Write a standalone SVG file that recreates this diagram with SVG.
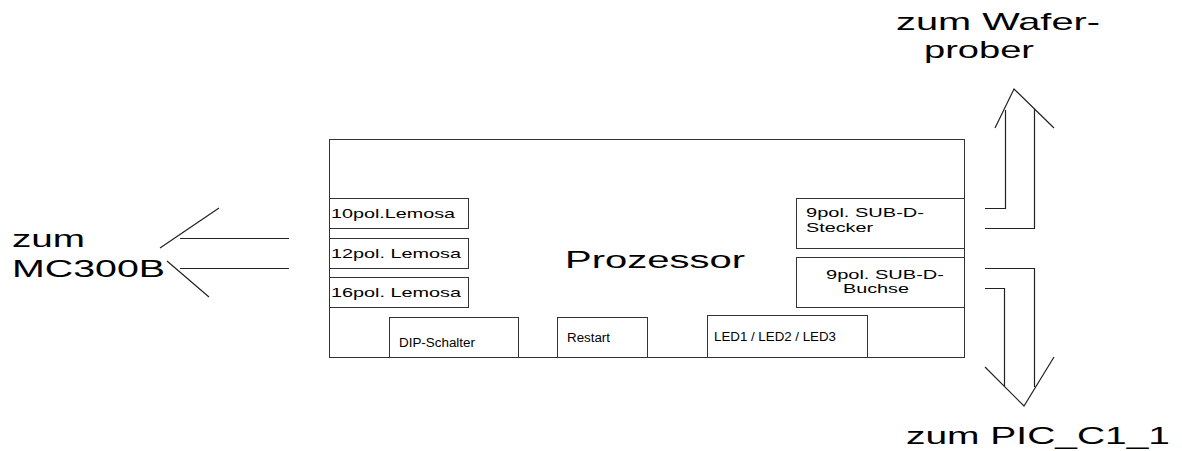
<svg xmlns="http://www.w3.org/2000/svg" width="1182" height="451" viewBox="0 0 1182 451">
<style>
.box{fill:#fff;stroke:#333;stroke-width:1}
.ln{fill:none;stroke:#222;stroke-width:1.2}
text{font-family:"Liberation Sans",Arial,sans-serif;fill:#000}
.s{font-size:13px}
.m{font-size:12px}
.b{font-size:24px}
</style>
<rect width="1182" height="451" fill="#fff"/>
<g id="prozessor">
<rect class="box" x="329.5" y="139.5" width="635" height="218"/>
<text class="b" x="565" y="268" textLength="180" lengthAdjust="spacingAndGlyphs">Prozessor</text>
</g>
<g id="lemosa10">
<rect class="box" x="329.5" y="198.5" width="139" height="30"/>
<text class="s" x="331" y="218" textLength="124" lengthAdjust="spacingAndGlyphs">10pol.Lemosa</text>
</g>
<g id="lemosa12">
<rect class="box" x="329.5" y="238.5" width="139" height="30"/>
<text class="s" x="331" y="258" textLength="130" lengthAdjust="spacingAndGlyphs">12pol. Lemosa</text>
</g>
<g id="lemosa16">
<rect class="box" x="329.5" y="277.5" width="139" height="30"/>
<text class="s" x="331" y="297" textLength="130" lengthAdjust="spacingAndGlyphs">16pol. Lemosa</text>
</g>
<g id="dip">
<rect class="box" x="389.5" y="317.5" width="129" height="40"/>
<text class="m" x="399" y="347" textLength="76" lengthAdjust="spacingAndGlyphs">DIP-Schalter</text>
</g>
<g id="restart">
<rect class="box" x="557.5" y="317.5" width="90" height="40"/>
<text class="m" x="567" y="342" textLength="43" lengthAdjust="spacingAndGlyphs">Restart</text>
</g>
<g id="led">
<rect class="box" x="707.5" y="315.5" width="160" height="42"/>
<text class="m" x="714" y="341" textLength="122" lengthAdjust="spacingAndGlyphs">LED1 / LED2 / LED3</text>
</g>
<g id="stecker">
<rect class="box" x="796.5" y="198.5" width="168" height="50"/>
<text class="s" x="806" y="217" textLength="118" lengthAdjust="spacingAndGlyphs">9pol. SUB-D-</text>
<text class="s" x="806" y="232" textLength="67" lengthAdjust="spacingAndGlyphs">Stecker</text>
</g>
<g id="buchse">
<rect class="box" x="796.5" y="257.5" width="168" height="50"/>
<text class="s" x="826" y="279" textLength="118" lengthAdjust="spacingAndGlyphs">9pol. SUB-D-</text>
<text class="s" x="843" y="293" textLength="66" lengthAdjust="spacingAndGlyphs">Buchse</text>
</g>
<g id="mc300b">
<text class="b" x="12" y="247" textLength="73" lengthAdjust="spacingAndGlyphs">zum</text>
<text class="b" x="12" y="277" textLength="153" lengthAdjust="spacingAndGlyphs">MC300B</text>
</g>
<g id="waferprober">
<text class="b" x="896" y="30" textLength="204" lengthAdjust="spacingAndGlyphs">zum Wafer-</text>
<text class="b" x="924" y="58" textLength="110" lengthAdjust="spacingAndGlyphs">prober</text>
</g>
<g id="pic">
<text class="b" x="906" y="444" textLength="264" lengthAdjust="spacingAndGlyphs">zum PIC_C1_1</text>
</g>
<g id="connectors">
<path class="ln" d="M180 238.5H289M180 268.5H289M160 248L219 208M167 261L209 297"/>
<path class="ln" d="M985 208.5H1005.5V110M985 228.5H1034.5V109M995 128L1014 89L1054 128"/>
<path class="ln" d="M985 268.5H1034.5V387M985 288.5H1004.5V386M985 367L1024 406L1054 357"/>
</g>
</svg>
